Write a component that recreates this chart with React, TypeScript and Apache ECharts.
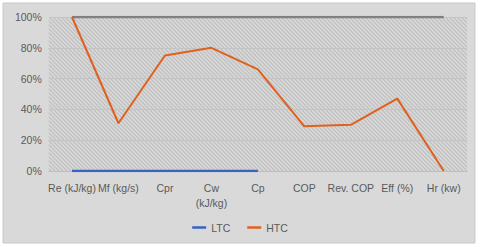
import React, { useEffect, useRef } from "react";
import * as echarts from "echarts";

const categories = ["Re (kJ/kg)", "Mf (kg/s)", "Cpr", "Cw\n(kJ/kg)", "Cp", "COP", "Rev. COP", "Eff (%)", "Hr (kw)"];
const totalValues = [100, 100, 100, 100, 100, 100, 100, 100, 100];
const ltcValues: (number | null)[] = [0, 0, 0, 0, 0, null, null, null, null];
const htcValues = [100, 31, 75, 80, 66, 29, 30, 47, 0];
const yTicks = { min: 0, max: 100, interval: 20 };

function makePattern() {
  const c = document.createElement("canvas");
  c.width = 4;
  c.height = 4;
  const ctx = c.getContext("2d")!;
  ctx.fillStyle = "#d8d8d8";
  ctx.fillRect(0, 0, 4, 4);
  ctx.strokeStyle = "#bdbdbd";
  ctx.lineWidth = 1.1;
  ctx.beginPath();
  ctx.moveTo(-1, -1);
  ctx.lineTo(5, 5);
  ctx.moveTo(-1, 3);
  ctx.lineTo(1, 5);
  ctx.moveTo(3, -1);
  ctx.lineTo(5, 1);
  ctx.stroke();
  return c;
}

export default function App() {
  const ref = useRef<HTMLDivElement>(null);
  useEffect(() => {
    document.body.style.margin = "0";
    const chart = echarts.init(ref.current!, undefined, { renderer: "svg" });
    const font = "Liberation Sans";
    chart.setOption({
      animation: false,
      backgroundColor: "#ffffff",
      graphic: [
        {
          type: "rect",
          z: -10,
          shape: { x: 3, y: 3, width: 472, height: 240 },
          style: { fill: "#d9d9d9", stroke: "#c9c9c9", lineWidth: 1 },
          silent: true,
        },
      ],
      grid: {
        left: 48.75,
        right: 13,
        top: 17,
        bottom: 76,
        show: true,
        borderWidth: 0,
        backgroundColor: { image: makePattern(), repeat: "repeat" } as any,
      },
      legend: {
        data: ["LTC", "HTC"],
        bottom: 9,
        left: "center",
        icon: "rect",
        itemWidth: 14,
        itemHeight: 2.5,
        itemGap: 17,
        textStyle: { fontFamily: font, fontSize: 10.5, color: "#595959" },
      },
      xAxis: {
        type: "category",
        data: categories,
        boundaryGap: true,
        axisLine: { show: true, lineStyle: { color: "#bfbfbf", width: 1 } },
        axisTick: { show: false },
        axisLabel: {
          interval: 0,
          margin: 9,
          fontFamily: font,
          fontSize: 10.5,
          color: "#595959",
          lineHeight: 15,
        },
        splitLine: { show: false },
      },
      yAxis: {
        type: "value",
        min: yTicks.min,
        max: yTicks.max,
        interval: yTicks.interval,
        axisLine: { show: false },
        axisTick: { show: false },
        axisLabel: {
          formatter: "{value}%",
          fontFamily: font,
          fontSize: 10.5,
          color: "#595959",
          margin: 7,
        },
        splitLine: { show: true, lineStyle: { color: "#c4c4c4", width: 1 } },
      },
      series: [
        {
          name: "Total",
          type: "line",
          data: totalValues,
          showSymbol: false,
          lineStyle: { color: "#808080", width: 2.5 },
          itemStyle: { color: "#808080" },
          z: 2,
        },
        {
          name: "LTC",
          type: "line",
          data: ltcValues,
          showSymbol: false,
          lineStyle: { color: "#3a62c0", width: 2.5 },
          itemStyle: { color: "#3a62c0" },
          z: 3,
        },
        {
          name: "HTC",
          type: "line",
          data: htcValues,
          showSymbol: false,
          lineStyle: { color: "#e0601e", width: 2 },
          itemStyle: { color: "#e0601e" },
          z: 4,
        },
      ],
    });
    return () => chart.dispose();
  }, []);
  return <div ref={ref} style={{ width: 480, height: 247 }} />;
}
